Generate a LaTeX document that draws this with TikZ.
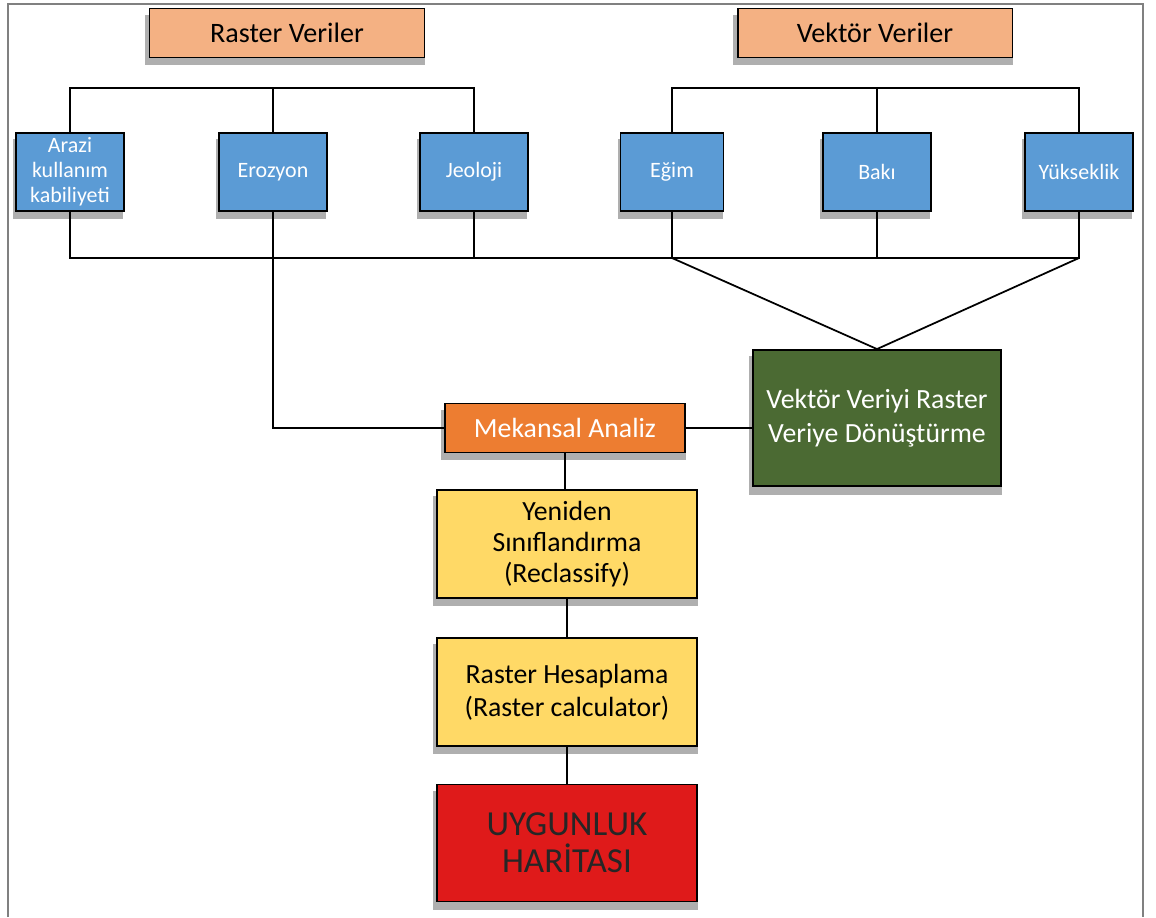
\documentclass[tikz,border=0pt]{standalone}
\usepackage{fontspec}
\setmainfont{Carlito}
\usepackage{xcolor}
\usetikzlibrary{positioning, shadows, calc}
\definecolor{salmon}{HTML}{F4B183}
\definecolor{boxblue}{HTML}{5B9BD5}
\definecolor{boxgreen}{HTML}{4B6A33}
\definecolor{boxorange}{HTML}{ED7D31}
\definecolor{boxyellow}{HTML}{FFD966}
\definecolor{boxred}{HTML}{DF1A1A}
\definecolor{framegray}{rgb}{0.5,0.5,0.5}

\tikzset{
  box/.style={draw=black, line width=1.1pt, inner sep=0pt, align=center,
    drop shadow={shadow xshift=-1pt, shadow yshift=-4pt, shadow scale=1.02,
      fill=gray!70, opacity=0.9}},
  header/.style={box, fill=salmon, minimum width=5.5cm, minimum height=0.98cm,
    font=\fontsize{16}{19}\selectfont},
  layer/.style={box, fill=boxblue, text=white, minimum width=2.16cm,
    minimum height=1.56cm, font=\fontsize{12.5}{14.2}\selectfont},
  stepbox/.style={box, fill=boxyellow, minimum width=5.2cm, minimum height=2.16cm,
    font=\fontsize{15.8}{19}\selectfont},
  link/.style={line width=1pt}
}

\begin{document}
\begin{tikzpicture}[x=0.02cm, y=-0.02cm]
\useasboundingbox (0,0) rectangle (1156,917);
\draw[framegray, line width=1.2pt] (8,917) -- (8,4) -- (1143,4) -- (1143,917);

% headers
\node[header] (raster) at (287,33) {Raster Veriler};
\node[header] (vektor) at (875,33) {Vektör Veriler};

% layers
\node[layer] (arazi) at (70,172) {Arazi\\kullanım\\kabiliyeti};
\node[layer] (erozyon) at (273,172) {Erozyon};
\node[layer] (jeoloji) at (474,172) {Jeoloji};
\node[layer, minimum width=2.06cm] (egim) at (672,172) {Eğim};
\node[layer] (baki) at (877,172) {Bakı};
\node[layer] (yukseklik) at (1079,172) {Yükseklik};

% processing chain
\node[box, fill=boxgreen, text=white, minimum width=4.96cm, minimum height=2.72cm,
  font=\fontsize{15.8}{19}\selectfont] (donusum) at (877,418)
  {Vektör Veriyi Raster\\Veriye Dönüştürme};
\node[box, fill=boxorange, text=white, minimum width=4.8cm, minimum height=0.98cm,
  font=\fontsize{15.8}{19}\selectfont] (analiz) at (565,428) {Mekansal Analiz};
\node[stepbox, font=\fontsize{15.8}{17.6}\selectfont] (reclass) at (567,544)
  {Yeniden\\Sınıflandırma\\(Reclassify)};
\node[stepbox] (hesap) at (567,692) {Raster Hesaplama\\(Raster calculator)};
\node[box, fill=boxred, text=black!85, minimum width=5.2cm, minimum height=2.34cm,
  font=\fontsize{20}{21}\selectfont] (harita) at (567,843) {UYGUNLUK\\HARİTASI};

% top buses
\coordinate (rbus) at (273,88);
\coordinate (vbus) at (877,88);
\draw[link] (arazi.north) |- (rbus) -| (jeoloji.north);
\draw[link] (erozyon.north) -- (rbus);
\draw[link] (egim.north) |- (vbus) -| (yukseklik.north);
\draw[link] (baki.north) -- (vbus);

% bottom bus
\coordinate (lbus) at (70,258);
\coordinate (ebus) at (egim.south |- lbus);
\coordinate (ybus) at (yukseklik.south |- lbus);
\draw[link] (arazi.south) -- (lbus) -- (ybus) -- (yukseklik.south);
\draw[link] (jeoloji.south) -- (jeoloji.south |- lbus);
\draw[link] (egim.south) -- (ebus);
\draw[link] (baki.south) -- (baki.south |- lbus);
\draw[link] (ebus) -- (donusum.north) -- (ybus);

% chain links
\draw[link] (erozyon.south) |- (analiz.west);
\draw[link] (analiz.east) -- (donusum.west |- analiz.east);
\draw[link] (analiz.south) -- (analiz.south |- reclass.north);
\draw[link] (reclass) -- (hesap);
\draw[link] (hesap) -- (harita);
\end{tikzpicture}
\end{document}
